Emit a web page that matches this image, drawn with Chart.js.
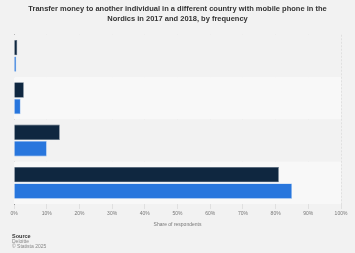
<!DOCTYPE html>
<html>
<head>
<meta charset="utf-8">
<script src="https://cdn.jsdelivr.net/npm/chart.js@4/dist/chart.umd.min.js"></script>
<style>
  html, body { margin:0; padding:0; background:#f2f2f2; }
  #wrap { width:355px; height:253px; position:relative; }
</style>
</head>
<body>
<div id="wrap"><canvas id="chart" width="355" height="253"></canvas></div>
<script>
const CATEGORIES = ["Daily", "Weekly", "Monthly", "Never"];
const SERIES_2018 = [1, 3, 14, 81];
const SERIES_2017 = [0.7, 2, 10, 85];
const X_TICKS = ["0%","10%","20%","30%","40%","50%","60%","70%","80%","90%","100%"];

const TITLE = ["Transfer money to another individual in a different country with mobile phone in the",
               "Nordics in 2017 and 2018, by frequency"];

// alternating row bands behind the bars
const bands = {
  id: "bands",
  beforeDraw(chart){
    const { ctx } = chart;
    ctx.save();
    ctx.fillStyle = "#f2f2f2";
    ctx.fillRect(0, 0, chart.width, chart.height);
    ctx.restore();
  },
  beforeDatasetsDraw(chart){
    const { ctx, chartArea, scales:{ y } } = chart;
    const step = (y.getPixelForValue(1) - y.getPixelForValue(0));
    CATEGORIES.forEach((c, i) => {
      const mid = y.getPixelForValue(i);
      ctx.save();
      ctx.fillStyle = i % 2 ? "#f8f8f8" : "#f2f2f2";
      ctx.fillRect(chartArea.left, mid - step/2, chartArea.right - chartArea.left, step);
      ctx.restore();
    });
  },
  afterDraw(chart){
    const { ctx } = chart;
    ctx.save();
    ctx.textBaseline = "middle";
    ctx.fillStyle = "#333";
    ctx.font = "bold 5.5px 'Liberation Sans', Arial, sans-serif";
    ctx.fillText("Source", 12, 236);
    ctx.fillStyle = "#888";
    ctx.font = "5px 'Liberation Sans', Arial, sans-serif";
    ctx.fillText("Deloitte", 12, 241.5);
    ctx.fillText("\u00a9 Statista 2025", 12, 247);
    ctx.restore();
  }
};

new Chart(document.getElementById("chart"), {
  type: "bar",
  data: {
    labels: CATEGORIES,
    datasets: [
      { label:"2018", data: SERIES_2018, backgroundColor:"#0f2740", borderColor:"#56697c", borderWidth:{top:0.6,right:0.6,bottom:0.6,left:0}, borderSkipped:false, categoryPercentage:0.78, barPercentage:0.93 },
      { label:"2017", data: SERIES_2017, backgroundColor:"#2876dd", borderColor:"#7fb0ee", borderWidth:{top:0.6,right:0.6,bottom:0.6,left:0}, borderSkipped:false, categoryPercentage:0.78, barPercentage:0.93 }
    ]
  },
  options: {
    indexAxis: "y",
    responsive: false,
    animation: false,
    layout: { padding: { left: 14, right: 14, top: 1, bottom: 25 } },
    plugins: {
      legend: { display:false },
      tooltip: { enabled:false },
      title: {
        display: true,
        text: TITLE,
        color: "#333",
        font: { family:"'Liberation Sans', Arial, sans-serif", size:7.5, weight:"bold", lineHeight:1.45 },
        padding: { top:2, bottom:10 }
      }
    },
    scales: {
      x: {
        min: 0, max: 100,
        ticks: {
          stepSize: 10,
          color: "#777",
          font: { family:"'Liberation Sans', Arial, sans-serif", size:5 },
          padding: 2,
          callback: (v, i) => X_TICKS[i]
        },
        grid: { color:"#d8d8d8", lineWidth:0.7, tickLength:5, drawTicks:true, tickColor:"#d8d8d8" },
        border: { display:false, dash:[2,1.5] },
        title: { display:true, text:"Share of respondents", color:"#777", font:{ family:"'Liberation Sans', Arial, sans-serif", size:5 }, padding:{ top:3, bottom:0 } }
      },
      y: {
        ticks: { display:false },
        grid: { display:false, drawTicks:false },
        border: { display:true, color:"#888", width:0.8 }
      }
    }
  },
  plugins: [bands]
});
</script>
</body>
</html>
